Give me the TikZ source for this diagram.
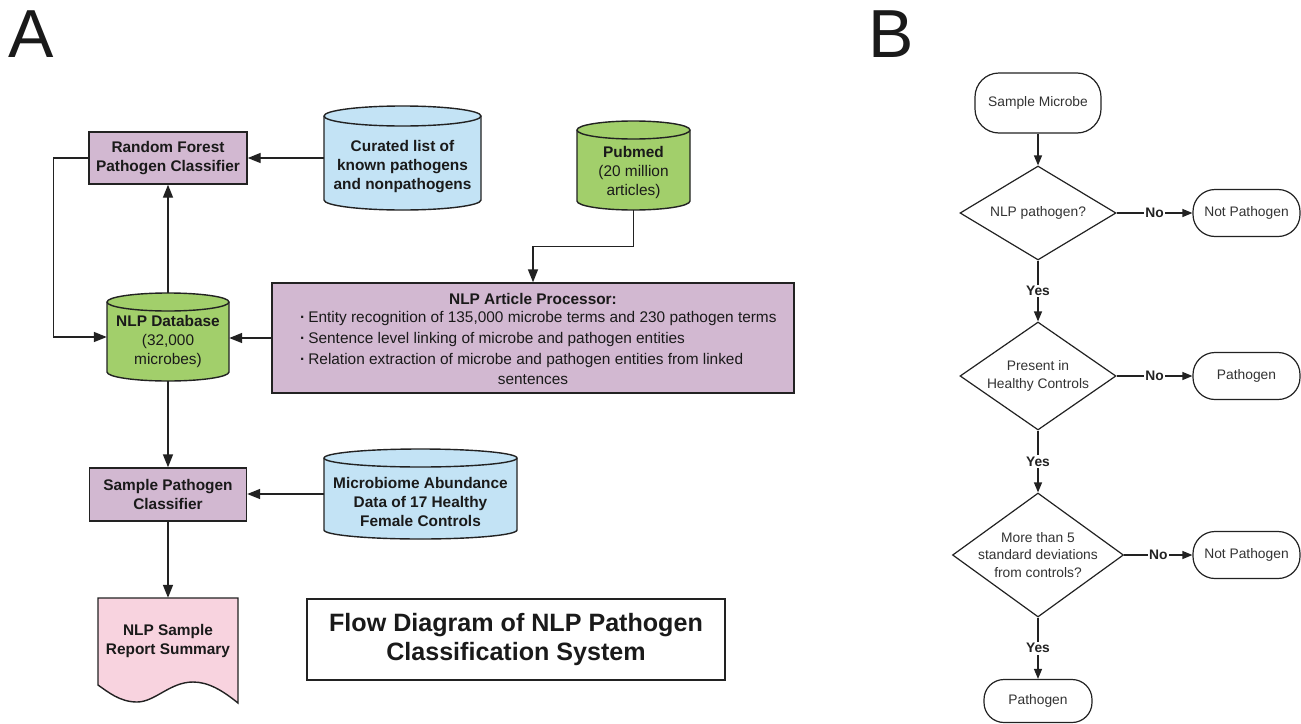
\documentclass[tikz,border=0pt]{standalone}
\usepackage{fontspec}
\setmainfont{Liberation Sans}
\usetikzlibrary{arrows.meta,shapes.geometric,backgrounds,calc}
\definecolor{purp}{HTML}{D2B8D1}
\definecolor{sky}{HTML}{C3E3F5}
\definecolor{leaf}{HTML}{A2CF6B}
\definecolor{rose}{HTML}{F8D3DF}
\definecolor{lc}{HTML}{222222}
\definecolor{tc}{HTML}{1A1A1A}
\definecolor{bt}{HTML}{333333}
\newcommand\fs[2]{\fontsize{#1}{#2}\selectfont}
\newcommand\cylshape[6]{%
 \pgfmathsetmacro\cylrx{(#3-#1)/2}%
 \pgfmathsetmacro\cylya{#2+#5}%
 \pgfmathsetmacro\cylyb{#4-#5}%
 \filldraw[fill=#6, shapeline] (#1,\cylya) -- (#1,\cylyb) arc[start angle=180, end angle=360, x radius=\cylrx pt, y radius=#5pt] -- (#3,\cylya) arc[start angle=0, end angle=180, x radius=\cylrx pt, y radius=#5pt] -- cycle;
 \draw[shapeline] (#1,\cylya) arc[start angle=180, end angle=360, x radius=\cylrx pt, y radius=#5pt];
}
\begin{document}
\begin{tikzpicture}[x=1pt,y=-1pt,
 shapeline/.style={draw=lc, line width=1.4pt},
 arr/.style={draw=lc, line width=1.4pt, -{Triangle[length=13pt,width=10pt]}},
 pbox/.style={rectangle, draw=lc, line width=1.4pt, fill=purp, inner sep=0pt, align=center, text=tc, font=\bfseries\fs{15.4}{18.5}},
 ghost/.style={rectangle, inner sep=0pt, draw=none},
 atext/.style={align=center, text=tc, inner sep=0pt, font=\fs{15.4}{19}},
 rbox/.style={rectangle, rounded corners=22pt, draw=lc, line width=1.2pt, fill=white, text=bt, font=\fs{13.8}{17.5}, inner sep=0pt, minimum width=107pt, minimum height=47pt},
 dia/.style={diamond, draw=lc, line width=1.2pt, inner sep=0pt, fill=white},
 btext/.style={align=center, text=bt, font=\fs{13.8}{17.5}, inner sep=0pt},
 barr/.style={draw=lc, line width=1.2pt, -{Triangle[length=10pt,width=8pt]}},
 lab/.style={fill=white, font=\bfseries\fs{13.8}{16}, text=lc, inner sep=1.5pt}
]
\useasboundingbox (0,0) rectangle (1301,723);

% Panel letters
\node[font=\fs{68}{68}, text=tc, inner sep=0pt] (labA) at (31.5,34.5) {A};
\node[font=\fs{68}{68}, text=tc, inner sep=0pt] (labB) at (891,34) {B};

% Panel A nodes
\node[pbox, minimum width=158pt, minimum height=52pt] (rf) at (168,158) {Random Forest\\Pathogen Classifier};

\node[ghost, minimum width=157pt, minimum height=104pt] (cur) at (402.5,158) {};
\node[atext, font=\bfseries\fs{15.4}{19}] (curT) at (402.5,167) {Curated list of\\known pathogens\\and nonpathogens};

\node[ghost, minimum width=113pt, minimum height=89pt] (pub) at (633.5,165.5) {};
\node[atext] (pubT) at (633.5,173) {\textbf{Pubmed}\\(20 million\\articles)};

\node[ghost, minimum width=122pt, minimum height=88pt] (db) at (168,337) {};
\node[atext] (dbT) at (168,342) {\textbf{NLP Database}\\(32,000\\microbes)};

\node[pbox, minimum width=522pt, minimum height=110pt] (nlp) at (533,338) {};
\node[atext, font=\bfseries\fs{15.4}{19}] (nlpT) at (533,299) {NLP Article Processor:};
\node[atext, anchor=west] (nlp1) at (300,319) {\textbf{·}\hspace{3pt}Entity recognition of 135,000 microbe terms and 230 pathogen terms};
\node[atext, anchor=west] (nlp2) at (300,340) {\textbf{·}\hspace{3pt}Sentence level linking of microbe and pathogen entities};
\node[atext, anchor=west] (nlp3) at (300,361) {\textbf{·}\hspace{3pt}Relation extraction of microbe and pathogen entities from linked};
\node[atext] (nlp4) at (533,380) {sentences};

\node[pbox, minimum width=157pt, minimum height=53pt] (spc) at (168,494.5) {Sample Pathogen\\Classifier};

\node[ghost, minimum width=193pt, minimum height=90pt] (mic) at (420.5,494) {};
\node[atext, font=\bfseries\fs{15.4}{19}] (micT) at (420.5,502) {Microbiome Abundance\\Data of 17 Healthy\\Female Controls};

\node[ghost, minimum width=140pt, minimum height=87pt, align=center, text=tc, font=\bfseries\fs{15.4}{19}] (rep) at (168,641.5) {NLP Sample\\Report Summary};

\node[draw=lc, line width=1.4pt, minimum width=418pt, minimum height=81pt, inner sep=0pt, align=center, font=\bfseries\fs{25.1}{29}, text=tc] (ttl) at (516,639.5) {Flow Diagram of NLP Pathogen\\Classification System};

% Panel A connectors
\draw[arr] (cur.west) -- (rf.east);
\draw[arr] (db.north) -- (rf.south);
\draw[arr] (rf.west) -- ++(-35,0) |- (db.west);
\draw[arr] (nlp.west) -- (nlp.west -| db.east);
\draw[arr] (pub.south) -- ++(0,36) -| (nlp.north);
\draw[arr] (db.south) -- (spc.north);
\draw[arr] (mic.west) -- (mic.west -| spc.east);
\draw[arr] (spc.south) -- (rep.north);

% background shapes
\begin{scope}[on background layer]
\fill[white] (0,0) rectangle (1301,723);
\cylshape{324}{106}{481}{210}{10}{sky}
\cylshape{577}{121}{690}{210}{9}{leaf}
\cylshape{107}{293}{229}{381}{9}{leaf}
\cylshape{324}{449}{517}{539}{9}{sky}
\filldraw[fill=rose, shapeline] (98,598) -- (238,598) -- (238,703) .. controls (222,690) and (208,682) .. (193,682) .. controls (170,682) and (155,702) .. (137,702) .. controls (120,702) and (108,692) .. (98,685) -- cycle;
\end{scope}

% Panel B
\node[rbox, rounded corners=24pt, minimum width=126pt, minimum height=60pt] (sm) at (1038,103) {Sample Microbe};
\node[dia, minimum width=156pt, minimum height=94pt] (d1) at (1038,213) {};
\node[btext] (d1T) at (1038,213) {NLP pathogen?};
\node[rbox] (np1) at (1246.5,213) {Not Pathogen};
\node[dia, minimum width=156pt, minimum height=108pt] (d2) at (1038,376) {};
\node[btext] (d2T) at (1038,376) {Present in\\Healthy Controls};
\node[rbox] (p2) at (1246.5,376) {Pathogen};
\node[dia, minimum width=171pt, minimum height=124pt] (d3) at (1038,555) {};
\node[btext] (d3T) at (1038,555) {More than 5\\standard deviations\\from controls?};
\node[rbox] (np3) at (1246.5,555) {Not Pathogen};
\node[rbox, rounded corners=20pt, minimum width=108pt, minimum height=43pt] (p4) at (1038,701) {Pathogen};

\draw[barr] (sm.south) -- (d1.north);
\draw[barr] (d1.east) -- node[lab]{No} (np1.west);
\draw[barr] (d1.south) -- node[lab]{Yes} (d2.north);
\draw[barr] (d2.east) -- node[lab]{No} (p2.west);
\draw[barr] (d2.south) -- node[lab]{Yes} (d3.north);
\draw[barr] (d3.east) -- node[lab]{No} (np3.west);
\draw[barr] (d3.south) -- node[lab]{Yes} (p4.north);
\end{tikzpicture}
\end{document}
